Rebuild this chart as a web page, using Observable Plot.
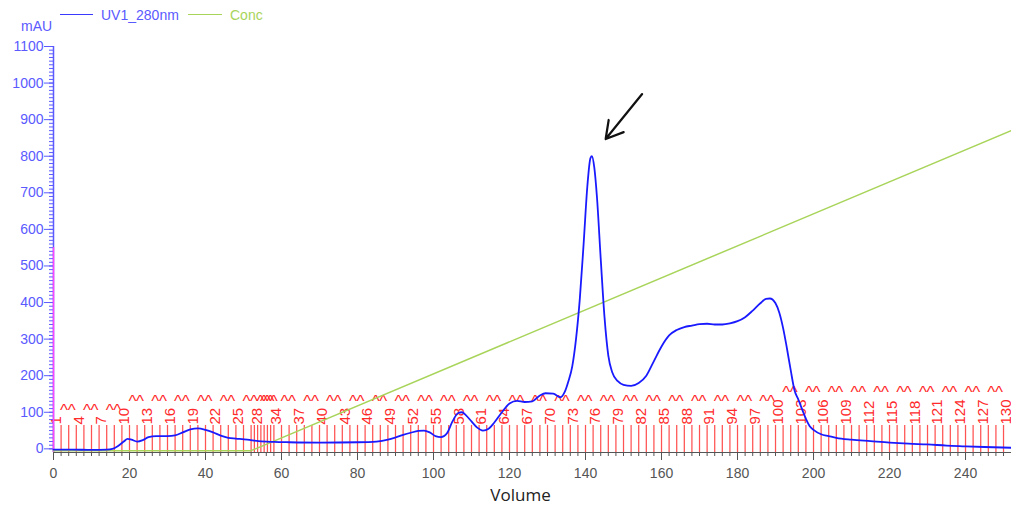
<!DOCTYPE html>
<html>
<head>
<meta charset="utf-8">
<script src="https://cdn.jsdelivr.net/npm/d3@7"></script>
<script src="https://cdn.jsdelivr.net/npm/@observablehq/plot@0.6"></script>
<style>
  html, body { margin: 0; padding: 0; background: #fff; }
  #wrap { position: relative; width: 1011px; height: 508px; font-family: "Liberation Sans", Arial, sans-serif; }
  .lg { position: absolute; font-size: 14px; line-height: 1; white-space: nowrap; }
  .sw { position: absolute; height: 0; border-top: 1.5px solid; }
</style>
</head>
<body>
<div id="wrap">
  <div id="chart"></div>
  <div class="lg" style="left:21px; top:19px; color:#5a5aff;">mAU</div>
  <div class="sw" style="left:60px; top:14px; width:33px; border-color:#3a3aff;"></div>
  <div class="lg" style="left:101px; top:8px; color:#5a5aff;">UV1_280nm</div>
  <div class="sw" style="left:188px; top:14px; width:34px; border-color:#a8d45a;"></div>
  <div class="lg" style="left:230px; top:8px; color:#a8d45a;">Conc</div>
</div>
<script>
// UV absorbance at 280 nm: [volume (ml), mAU]
const uvVolume = [0, 5, 10, 14, 15.5, 17, 18.5, 19.5, 20.5, 22, 23.5, 25, 27, 30, 32, 34, 36, 38, 40, 42, 44, 46, 48, 51, 54, 58, 62, 70, 80, 85, 88, 90, 92, 94, 96, 97.5, 99, 100.5, 102, 103.5, 105, 106.5, 107.5, 108.5, 110, 111.5, 113, 114.5, 116, 118, 120, 122, 124, 126, 128, 129.5, 131.5, 133.4, 134.5, 135.5, 136.5, 137.5, 138.5, 139.5, 140.5, 141.3, 141.7, 142.3, 143, 144, 145, 146, 147, 148.5, 150, 152, 154, 156, 158, 160, 162, 164, 166, 168, 170, 172, 174, 176, 178, 180, 182, 184, 186, 187.5, 188.5, 190, 191, 192, 193, 194, 195, 196, 197, 198, 199, 200, 202, 204, 206, 210, 215, 220, 225, 230, 235, 240, 245, 252];
const uvValue  = [-2, -2, -3, -2, 0, 8, 20, 27, 25, 20, 24, 32, 35, 35, 37, 45, 53, 56, 52, 45, 36, 30, 28, 25, 21, 19, 18, 17, 18, 20, 25, 31, 38, 44, 49, 50, 45, 35, 32, 42, 75, 98, 100, 92, 75, 58, 50, 55, 72, 100, 124, 131, 128, 130, 146, 152, 151, 141, 155, 185, 225, 300, 410, 560, 720, 795, 800, 770, 690, 520, 360, 255, 210, 185, 175, 172, 180, 200, 240, 280, 310, 325, 333, 337, 341, 342, 340, 340, 343, 349, 360, 378, 398, 410, 411, 398, 372, 330, 275, 215, 160, 135, 108, 82, 62, 52, 40, 35, 30, 25, 21, 17, 14, 12, 9, 7, 5, 3];

// Gradient concentration, drawn in the same units
const concVolume = [0, 52, 252];
const concValue  = [-5, -5, 870];

// Fraction start volumes (ml), fractions 1..130
const fractionStart = [
  0, 2, 4, 6, 8, 10, 12, 14, 16, 18, 20, 22, 24, 26, 28, 30, 32, 34, 36, 38,
  40, 42, 44, 46, 48, 50, 52, 52.86, 53.71, 54.57, 55.43, 56.29, 57.14,
  58, 60, 62, 64, 66, 68, 70, 72, 74, 76, 78, 80, 82, 84, 86, 88, 90, 92, 94, 96, 98,
  100, 102, 104, 106, 108, 110, 112, 114, 116, 118, 120, 122, 124, 126, 128, 130,
  132, 134, 136, 138, 140, 142, 144, 146, 148, 150, 152, 154, 156, 158, 160,
  162, 164, 166, 168, 170, 172, 174, 176, 178, 180, 182, 184, 186, 188, 190,
  192, 194, 196, 198, 200, 202, 204, 206, 208, 210, 212, 214, 216, 218, 220,
  222, 224, 226, 228, 230, 232, 234, 236, 238, 240, 242, 244, 246, 248, 250
];
// Fractions whose number is printed
const fractionLabels = [1, 4, 7, 10, 13, 16, 19, 22, 25, 28, 34, 37, 40, 43, 46, 49, 52, 55, 58, 61, 64, 67, 70, 73, 76, 79, 82, 85, 88, 91, 94, 97, 100, 103, 106, 109, 112, 115, 118, 121, 124, 127, 130];

const xMajorTicks = [0, 20, 40, 60, 80, 100, 120, 140, 160, 180, 200, 220, 240];
const yMajorTicks = [0, 100, 200, 300, 400, 500, 600, 700, 800, 900, 1000, 1100];

// Arrow pointing at the main peak: tail and head
const arrowFrom = [154.9, 970];
const arrowTo   = [145.3, 847];

const uv = uvVolume.map((v, i) => ({v, a: uvValue[i]}));
const conc = concVolume.map((v, i) => ({v, a: concValue[i]}));
const fractions = fractionStart.map((s, i) => ({n: i + 1, s}));
const labelSet = new Set(fractionLabels);
const labelled = fractions.filter(f => labelSet.has(f.n));
const unlabelled = fractions.filter(f => !labelSet.has(f.n));
const digits = f => String(f.n).length;

const RED = "#ff2a2a";
const AXIS_BLUE = "#5a5aff";
const GREY = "#555";

// caret markers for unnumbered fractions, lifted above the number height
const caret = (nd, dy) => Plot.text(unlabelled.filter(f => digits(f) === nd), {
  x: "s", y: -10, text: () => "^", lineAnchor: "top", dx: 3, dy, fill: RED, fontSize: 17
});

const chart = Plot.plot({
  width: 1011,
  height: 508,
  marginTop: 46,
  marginBottom: 56,
  marginLeft: 53,
  marginRight: 0,
  x: {domain: [0, 252.1]},
  y: {domain: [-10, 1100]},
  style: {fontFamily: "'Liberation Sans', Arial, sans-serif", fontSize: "13px", background: "#fff"},
  marks: [
    // fraction collector marks
    Plot.ruleX(fractionStart, {y1: -10, y2: 64, stroke: "#ff5252", strokeWidth: 1.25}),
    Plot.text(labelled, {x: "s", y: -10, text: d => String(d.n), rotate: -90, textAnchor: "start", lineAnchor: "middle", dx: 2.5, dy: -28, fill: RED, fontSize: 15}),
    caret(1, -49),
    caret(2, -58),
    caret(3, -67),

    // axes
    Plot.axisX({ticks: d3.range(0, 251, 2), tickSize: 4, tickFormat: () => "", color: GREY, label: null}),
    Plot.axisX({ticks: xMajorTicks, tickSize: 8, tickPadding: 8, color: GREY, label: null, fontSize: 14}),
    Plot.ruleY([-10], {stroke: GREY, strokeWidth: 1.2}),
    Plot.axisY({ticks: d3.range(0, 1101, 10), tickSize: 4, tickFormat: () => "", color: AXIS_BLUE, label: null}),
    Plot.axisY({ticks: yMajorTicks, tickSize: 9, tickPadding: 1, tickFormat: d3.format("d"), color: AXIS_BLUE, label: null, fontSize: 14}),
    Plot.ruleX([0], {y1: -10, y2: 1100, stroke: AXIS_BLUE, strokeWidth: 1.5}),
    Plot.ruleX([0], {y1: -10, y2: 550, stroke: "#ff44ff", strokeWidth: 1.5}),

    // traces
    Plot.line(conc, {x: "v", y: "a", stroke: "#a8d45a", strokeWidth: 1.5}),
    Plot.line(uv, {x: "v", y: "a", stroke: "#1a1aff", strokeWidth: 1.8, curve: "monotone-x"}),

    // annotation arrow
    Plot.arrow([{from: arrowFrom, to: arrowTo}], {
      x1: d => d.from[0], y1: d => d.from[1], x2: d => d.to[0], y2: d => d.to[1],
      stroke: "#111", strokeWidth: 2.2, headLength: 14
    }),

    // x-axis title
    Plot.text(["Volume"], {frameAnchor: "bottom", dx: -12, dy: 48, fontSize: 17, fontFamily: "'Open Sans', sans-serif", fill: "#222"})
  ]
});
document.getElementById("chart").appendChild(chart);
</script>
</body>
</html>
